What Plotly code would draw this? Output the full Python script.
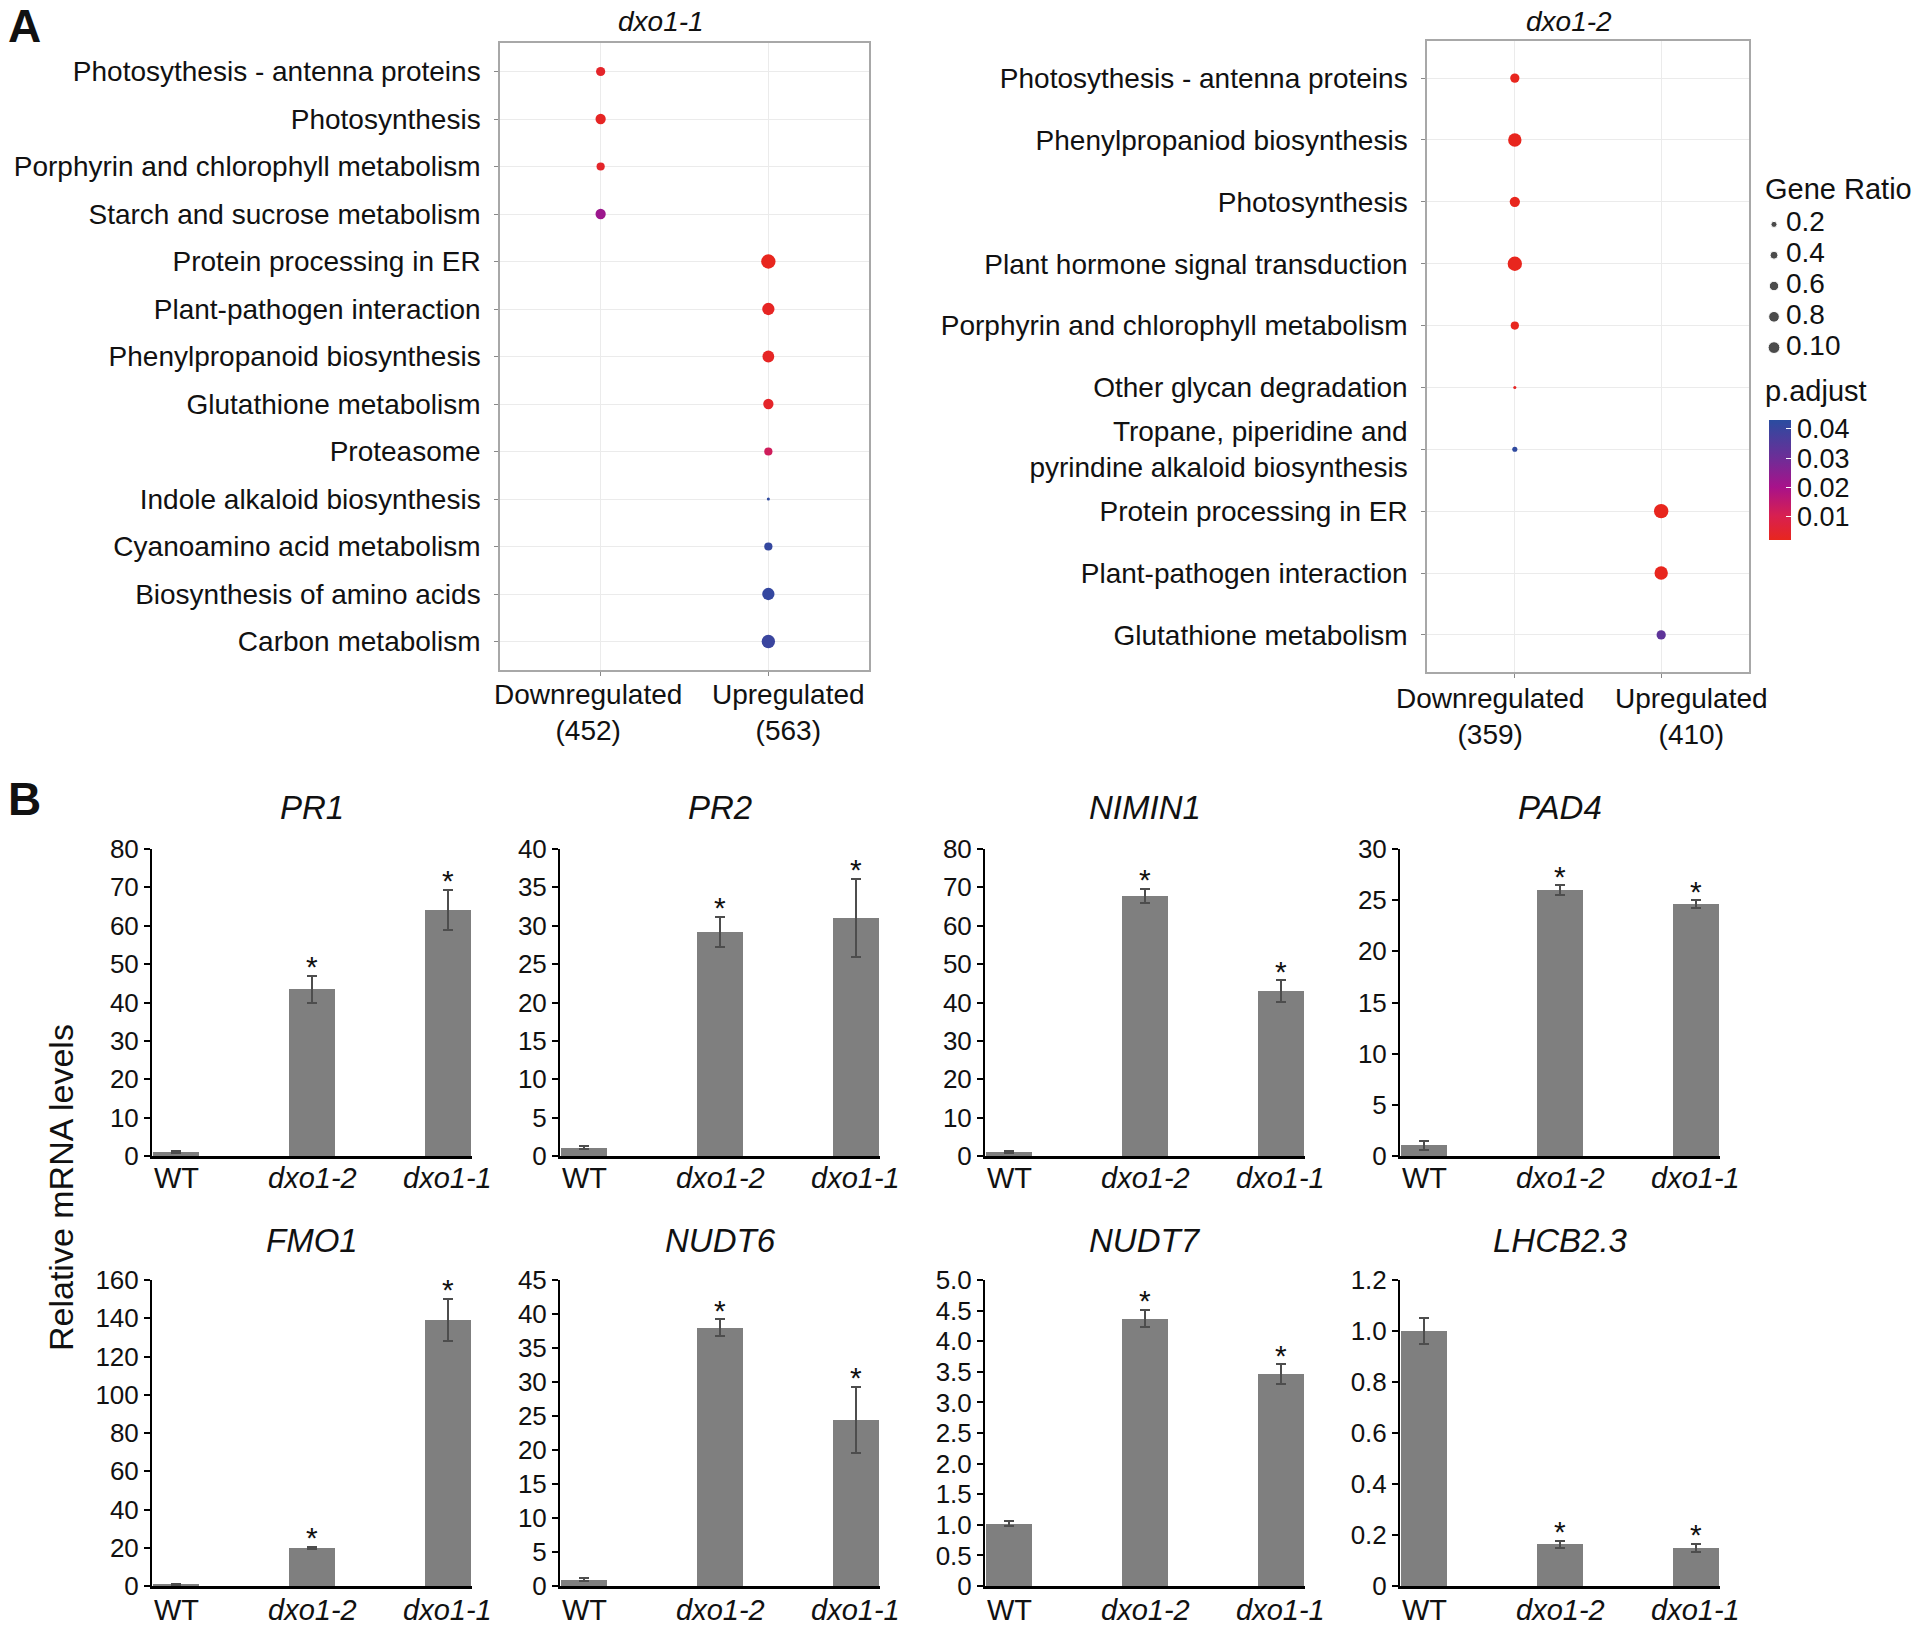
import numpy as np
import plotly.graph_objects as go

# ---------------- Panel A data ----------------
GROUPS = ["Downregulated", "Upregulated"]

A1_TITLE = "dxo1-1"
A1_COUNTS = [452, 563]
A1_TERMS = ["Photosythesis - antenna proteins", "Photosynthesis",
            "Porphyrin and chlorophyll metabolism", "Starch and sucrose metabolism",
            "Protein processing in ER", "Plant-pathogen interaction",
            "Phenylpropanoid biosynthesis", "Glutathione metabolism", "Proteasome",
            "Indole alkaloid biosynthesis", "Cyanoamino acid metabolism",
            "Biosynthesis of amino acids", "Carbon metabolism"]
A1_GROUP = ["Downregulated", "Downregulated", "Downregulated", "Downregulated",
            "Upregulated", "Upregulated", "Upregulated", "Upregulated", "Upregulated",
            "Upregulated", "Upregulated", "Upregulated", "Upregulated"]
A1_RATIO = [0.081, 0.100, 0.064, 0.100, 0.196, 0.144, 0.132, 0.100, 0.064, 0.009, 0.064, 0.144, 0.169]
A1_PADJ = [0.004, 0.003, 0.004, 0.022, 0.002, 0.003, 0.003, 0.004, 0.012, 0.042, 0.041, 0.041, 0.040]

A2_TITLE = "dxo1-2"
A2_COUNTS = [359, 410]
A2_TERMS = ["Photosythesis - antenna proteins", "Phenylpropaniod biosynthesis", "Photosynthesis",
            "Plant hormone signal transduction", "Porphyrin and chlorophyll metabolism",
            "Other glycan degradation",
            "Tropane, piperidine and<br>pyrindine alkaloid biosynthesis",
            "Protein processing in ER", "Plant-pathogen interaction", "Glutathione metabolism"]
A2_GROUP = ["Downregulated"] * 7 + ["Upregulated"] * 3
A2_RATIO = [0.081, 0.169, 0.100, 0.196, 0.064, 0.009, 0.025, 0.196, 0.169, 0.081]
A2_PADJ = [0.002, 0.002, 0.002, 0.002, 0.002, 0.003, 0.042, 0.002, 0.002, 0.033]

LEGEND_RATIO_LABELS = ["0.2", "0.4", "0.6", "0.8", "0.10"]
LEGEND_RATIO_VALUES = [0.02, 0.04, 0.06, 0.08, 0.10]
PADJ_TICKS = [0.01, 0.02, 0.03, 0.04]
PADJ_TICKTEXT = ["0.01", "0.02", "0.03", "0.04"]
PADJ_RANGE = [0.002, 0.043]

# ---------------- Panel B data ----------------
GENOTYPES = ["WT", "dxo1-2", "dxo1-1"]
GENOTYPE_LABELS = ["WT", "<i>dxo1-2</i>", "<i>dxo1-1</i>"]
GENES = ["PR1", "PR2", "NIMIN1", "PAD4", "FMO1", "NUDT6", "NUDT7", "LHCB2.3"]
MEANS = {
    "PR1": [1.0, 43.5, 64.2],
    "PR2": [1.1, 29.2, 31.0],
    "NIMIN1": [1.0, 67.8, 43.0],
    "PAD4": [1.04, 26.0, 24.6],
    "FMO1": [1.0, 20.0, 139.0],
    "NUDT6": [0.95, 38.0, 24.4],
    "NUDT7": [1.02, 4.37, 3.46],
    "LHCB2.3": [1.0, 0.163, 0.149],
}
ERRORS = {
    "PR1": [0.3, 3.5, 5.2],
    "PR2": [0.2, 1.95, 5.1],
    "NIMIN1": [0.2, 1.85, 2.8],
    "PAD4": [0.42, 0.45, 0.4],
    "FMO1": [0.3, 0.6, 11.1],
    "NUDT6": [0.2, 1.25, 4.9],
    "NUDT7": [0.04, 0.145, 0.16],
    "LHCB2.3": [0.05, 0.014, 0.016],
}
SIGNIF = [False, True, True]
YTICKS = {
    "PR1": [0, 10, 20, 30, 40, 50, 60, 70, 80],
    "PR2": [0, 5, 10, 15, 20, 25, 30, 35, 40],
    "NIMIN1": [0, 10, 20, 30, 40, 50, 60, 70, 80],
    "PAD4": [0, 5, 10, 15, 20, 25, 30],
    "FMO1": [0, 20, 40, 60, 80, 100, 120, 140, 160],
    "NUDT6": [0, 5, 10, 15, 20, 25, 30, 35, 40, 45],
    "NUDT7": [0, 0.5, 1.0, 1.5, 2.0, 2.5, 3.0, 3.5, 4.0, 4.5, 5.0],
    "LHCB2.3": [0, 0.2, 0.4, 0.6, 0.8, 1.0, 1.2],
}
YTICKTEXT = {
    "PR1": ["0", "10", "20", "30", "40", "50", "60", "70", "80"],
    "PR2": ["0", "5", "10", "15", "20", "25", "30", "35", "40"],
    "NIMIN1": ["0", "10", "20", "30", "40", "50", "60", "70", "80"],
    "PAD4": ["0", "5", "10", "15", "20", "25", "30"],
    "FMO1": ["0", "20", "40", "60", "80", "100", "120", "140", "160"],
    "NUDT6": ["0", "5", "10", "15", "20", "25", "30", "35", "40", "45"],
    "NUDT7": ["0", "0.5", "1.0", "1.5", "2.0", "2.5", "3.0", "3.5", "4.0", "4.5", "5.0"],
    "LHCB2.3": ["0", "0.2", "0.4", "0.6", "0.8", "1.0", "1.2"],
}
Y_LABEL = "Relative mRNA levels"

# ---------------- layout helpers ----------------
FW, FH = 1920, 1628


def fx(px):
    return px / FW


def fy(py):
    return 1 - py / FH


FONT_A = "Liberation Sans, Arial, Helvetica, sans-serif"
FONT_B = "Liberation Sans, Arial, Helvetica, sans-serif"
GRID = "#EBEBEB"
BORDER = "#A8A8A8"
BAR_COLOR = "#7F7F7F"
ERR_COLOR = "#4D4D4D"
SIZE_K = 32.5
COLORSCALE = [[0.0, "#E8261E"], [0.2, "#D82050"], [0.44, "#A8128A"],
              [0.68, "#6E2D97"], [1.0, "#2A4CA0"]]

fig = go.Figure()
layout = {}
annotations = []


def ann(text, x, y, size, family=FONT_A, xanchor="center", yanchor="middle", angle=0,
        color="#111111", xref="paper", yref="paper", xshift=0, yshift=0):
    annotations.append(dict(text=text, x=x, y=y, xref=xref, yref=yref,
                            showarrow=False, xanchor=xanchor, yanchor=yanchor, textangle=angle,
                            xshift=xshift, yshift=yshift,
                            font=dict(family=family, size=size, color=color)))


def axname(k):
    return ("x" if k == 1 else f"x{k}"), ("y" if k == 1 else f"y{k}")


def dotplot(k, terms, groups, ratio, padj, counts, box, label_y, label_shift):
    xn, yn = axname(k)
    cats = [f"{g}<br>({c})" for g, c in zip(GROUPS, counts)]
    xvals = [cats[GROUPS.index(g)] for g in groups]
    fig.add_trace(go.Scatter(
        x=xvals, y=terms, mode="markers", xaxis=xn, yaxis=yn, cliponaxis=False,
        marker=dict(size=SIZE_K * np.sqrt(np.array(ratio)), color=padj,
                    coloraxis="coloraxis", line=dict(width=0), opacity=1),
        hoverinfo="skip"))
    x0, x1, y0, y1 = box
    layout["xaxis" if k == 1 else f"xaxis{k}"] = dict(
        domain=[fx(x0), fx(x1)], anchor=yn, type="category",
        categoryorder="array", categoryarray=cats, range=[-0.6, 1.6],
        showgrid=True, gridcolor=GRID, gridwidth=1, zeroline=False,
        showline=True, linecolor=BORDER, linewidth=1.5, mirror=True,
        ticks="outside", ticklen=4, tickcolor="#888888", showticklabels=False)
    n = len(terms)
    layout["yaxis" if k == 1 else f"yaxis{k}"] = dict(
        domain=[fy(y1), fy(y0)], anchor=xn, type="category",
        categoryorder="array", categoryarray=terms, range=[n - 0.4, -0.6],
        showgrid=True, gridcolor=GRID, gridwidth=1, zeroline=False,
        showline=True, linecolor=BORDER, linewidth=1.5, mirror=True,
        ticks="outside", ticklen=4, tickcolor="#888888", ticklabelstandoff=8,
        tickfont=dict(family=FONT_A, size=28, color="#111111"))
    for cat, sh in zip(cats, label_shift):
        ann(cat, cat, fy(label_y), 28, xref=xn, xshift=sh)


dotplot(1, A1_TERMS, A1_GROUP, A1_RATIO, A1_PADJ, A1_COUNTS, (500, 869, 43, 670), 713, [-13, 20])
dotplot(2, A2_TERMS, A2_GROUP, A2_RATIO, A2_PADJ, A2_COUNTS, (1427, 1749, 41, 672), 716, [-25, 30])

# size legend (axis 3)
fig.add_trace(go.Scatter(
    x=[0] * len(LEGEND_RATIO_VALUES), y=LEGEND_RATIO_LABELS, mode="markers",
    xaxis="x3", yaxis="y3", cliponaxis=False, hoverinfo="skip",
    marker=dict(size=SIZE_K * np.sqrt(np.array(LEGEND_RATIO_VALUES)) + 1.5, color="black")))
fig.add_trace(go.Scatter(
    x=[1.2] * len(LEGEND_RATIO_VALUES), y=LEGEND_RATIO_LABELS, mode="text",
    text=LEGEND_RATIO_LABELS, textposition="middle right",
    textfont=dict(family=FONT_A, size=28, color="#111111"),
    xaxis="x3", yaxis="y3", cliponaxis=False, hoverinfo="skip"))
layout["xaxis3"] = dict(domain=[fx(1763), fx(1911)], anchor="y3", range=[-1.1, 13.7],
                        visible=False, fixedrange=True)
layout["yaxis3"] = dict(domain=[fy(363), fy(209)], anchor="x3", type="category",
                        categoryorder="array", categoryarray=LEGEND_RATIO_LABELS,
                        range=[4.5, -0.5], visible=False)

layout["coloraxis"] = dict(
    colorscale=COLORSCALE, cmin=PADJ_RANGE[0], cmax=PADJ_RANGE[1],
    colorbar=dict(x=fx(1769), xanchor="left", xpad=0, y=fy(420), yanchor="top", ypad=0,
                  len=120, lenmode="pixels", thickness=22, thicknessmode="pixels",
                  outlinewidth=0, tickvals=PADJ_TICKS, ticktext=PADJ_TICKTEXT,
                  ticks="inside", ticklen=5, tickcolor="white", tickwidth=1,
                  tickfont=dict(family=FONT_A, size=27, color="#111111")))

ann("<b>A</b>", fx(6), fy(26), 46, xanchor="left")
ann("<b>B</b>", fx(6), fy(799), 46, xanchor="left")
ann(f"<i>{A1_TITLE}</i>", fx(661), fy(21), 28)
ann(f"<i>{A2_TITLE}</i>", fx(1569), fy(21), 28)
ann("Gene Ratio", fx(1763), fy(189), 29, xanchor="left")
ann("p.adjust", fx(1763), fy(391), 29, xanchor="left")

# ---------------- Panel B bar charts ----------------
COL_LEFT = [152, 560, 985, 1400]
COL_WIDTH = 320
ROW_TOP = [849, 1280]
ROW_BOTTOM = [1156, 1586]
TITLE_Y = [807, 1240]
CAT_LABEL_Y = [1178, 1610]

for i, g in enumerate(GENES):
    k = 4 + i
    xn, yn = axname(k)
    r, c = divmod(i, 4)
    x0 = COL_LEFT[c]
    x1 = x0 + COL_WIDTH
    means = MEANS[g]
    errs = ERRORS[g]
    fig.add_trace(go.Bar(
        x=GENOTYPES, y=means, width=0.34, xaxis=xn, yaxis=yn,
        marker=dict(color=BAR_COLOR, line=dict(width=0)),
        error_y=dict(type="data", array=errs, visible=True, color=ERR_COLOR,
                     thickness=2, width=5),
        hoverinfo="skip"))
    for gt, m, e, s in zip(GENOTYPES, means, errs, SIGNIF):
        if s:
            ann("*", gt, m + e, 30, xref=xn, yref=yn, yshift=9)
    for gt, lab in zip(GENOTYPES, GENOTYPE_LABELS):
        ann(lab, gt, fy(CAT_LABEL_Y[r]), 29, family=FONT_B, xref=xn)
    layout[f"xaxis{k}"] = dict(
        domain=[fx(x0), fx(x1)], anchor=yn, type="category",
        categoryorder="array", categoryarray=GENOTYPES, range=[-0.18, 2.18],
        ticks="", showticklabels=False,
        showline=True, linecolor="black", linewidth=3, showgrid=False, zeroline=False)
    yt = YTICKS[g]
    layout[f"yaxis{k}"] = dict(
        domain=[fy(ROW_BOTTOM[r]), fy(ROW_TOP[r])], anchor=xn,
        range=[0, yt[-1]], tickvals=yt, ticktext=YTICKTEXT[g],
        ticks="outside", ticklen=6, tickwidth=1.5, tickcolor="black",
        showline=True, linecolor="black", linewidth=2, showgrid=False, zeroline=False,
        tickfont=dict(family=FONT_B, size=26, color="#111111"))
    ann(f"<i>{g}</i>", fx((x0 + x1) / 2), fy(TITLE_Y[r]), 33, family=FONT_B)

ann(Y_LABEL, fx(61), fy(1188), 34, angle=-90)

layout["annotations"] = annotations
fig.update_layout(
    width=FW, height=FH, margin=dict(l=0, r=0, t=0, b=0, autoexpand=False),
    paper_bgcolor="white", plot_bgcolor="white", showlegend=False,
    bargap=0, **layout)

fig.write_html("out.html", config={"displayModeBar": False},
               post_script="document.body.style.margin='0';document.body.style.overflow='hidden';")
